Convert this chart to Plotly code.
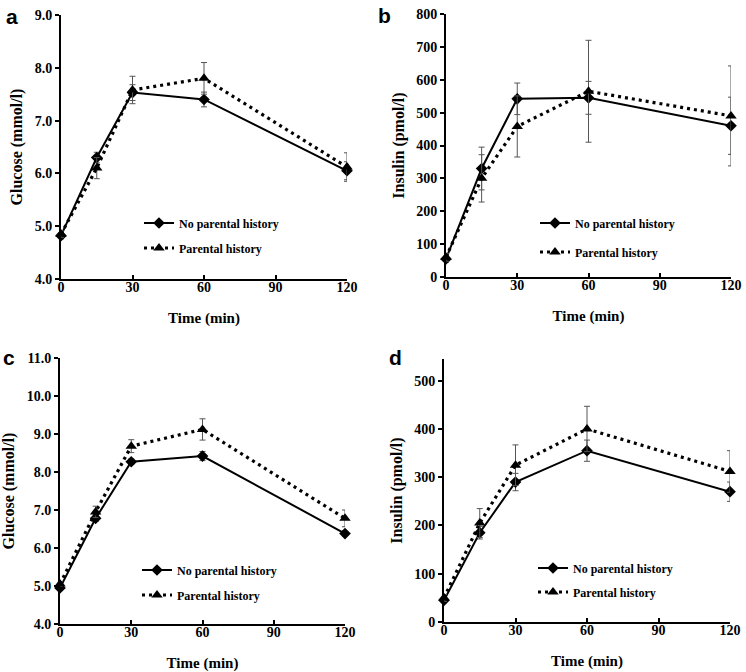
import plotly.graph_objects as go

W, H = 746, 672

time = [0, 15, 30, 60, 120]
x_ticks = [0, 30, 60, 90, 120]

# Panel a: glucose
a_no = [4.82, 6.30, 7.53, 7.40, 6.05]
a_no_err = [0.06, 0.10, 0.15, 0.14, 0.17]
a_ph = [4.85, 6.10, 7.58, 7.80, 6.12]
a_ph_err = [0.06, 0.20, 0.26, 0.30, 0.27]

# Panel b: insulin
b_no = [55, 330, 542, 545, 460]
b_no_err = [10, 65, 48, 50, 87]
b_ph = [60, 300, 458, 565, 490]
b_ph_err = [12, 72, 93, 155, 152]

# Panel c: glucose
c_no = [4.95, 6.78, 8.27, 8.42, 6.38]
c_no_err = [0.05, 0.08, 0.07, 0.12, 0.07]
c_ph = [5.05, 6.95, 8.68, 9.12, 6.78]
c_ph_err = [0.06, 0.15, 0.17, 0.28, 0.22]

# Panel d: insulin
d_no = [45, 185, 290, 355, 270]
d_no_err = [5, 13, 18, 22, 20]
d_ph = [50, 205, 325, 400, 312]
d_ph_err = [7, 30, 42, 47, 43]

name_no = "No parental history"
name_ph = "Parental history"

SERIF = "Liberation Serif, Times New Roman, serif"

panels = [
    dict(no=a_no, ne=a_no_err, ph=a_ph, pe=a_ph_err, x0=61, x1=347, yt=15, yb=279,
         yr=[4, 9], dt=1, fmt=".1f", title="Glucose (mmol/l)", letter="a", lx=12, ly=16,
         legx=139, legy=(223, 248)),
    dict(no=b_no, ne=b_no_err, ph=b_ph, pe=b_ph_err, x0=446, x1=731, yt=14, yb=277,
         yr=[0, 800], dt=100, fmt="d", title="Insulin (pmol/l)", letter="b", lx=384, ly=15,
         legx=535, legy=(223, 252)),
    dict(no=c_no, ne=c_no_err, ph=c_ph, pe=c_ph_err, x0=60, x1=345, yt=358, yb=624,
         yr=[4, 11], dt=1, fmt=".1f", title="Glucose (mmol/l)", letter="c", lx=9, ly=357,
         legx=137, legy=(570, 595)),
    dict(no=d_no, ne=d_no_err, ph=d_ph, pe=d_ph_err, x0=444, x1=730, yt=359, yb=622,
         yr=[0, 545], dt=100, fmt="d", title="Insulin (pmol/l)", letter="d", lx=395, ly=357,
         legx=533, legy=(568, 592)),
]

fig = go.Figure()
annotations = []
li = 1
for i, p in enumerate(panels, start=1):
    xa = "x" if i == 1 else f"x{i}"
    ya = "y" if i == 1 else f"y{i}"
    lg1 = "legend" if li == 1 else f"legend{li}"
    lg2 = f"legend{li + 1}"
    fig.add_trace(go.Scatter(
        x=time, y=p["no"], name=name_no, mode="lines+markers",
        line=dict(color="black", width=2),
        marker=dict(symbol="diamond", size=9, color="black"),
        error_y=dict(type="data", array=p["ne"], color="#555555", thickness=1, width=3),
        cliponaxis=False, xaxis=xa, yaxis=ya, legend=lg1))
    fig.add_trace(go.Scatter(
        x=time, y=p["ph"], name=name_ph, mode="lines+markers",
        line=dict(color="black", width=3.2, dash="3px,4px"),
        marker=dict(symbol="triangle-up", size=10, color="black"),
        error_y=dict(type="data", array=p["pe"], color="#555555", thickness=1, width=3),
        cliponaxis=False, xaxis=xa, yaxis=ya, legend=lg2))

    xd = [p["x0"] / W, p["x1"] / W]
    yd = [1 - p["yb"] / H, 1 - p["yt"] / H]
    axis_common = dict(showline=True, linecolor="black", linewidth=2,
                       ticklen=4, tickwidth=1.5, tickcolor="black", showgrid=False,
                       zeroline=False, automargin=False,
                       tickfont=dict(family=SERIF, size=14, color="black", weight="bold"))
    fig.layout[f"xaxis{i if i > 1 else ''}"] = dict(
        domain=xd, range=[0, 120], tickvals=x_ticks, anchor=ya, ticks="inside",
        ticklabelstandoff=-6,
        title=dict(text="Time (min)", font=dict(family=SERIF, size=15, color="black", weight="bold"),
                   standoff=19),
        **axis_common)
    fig.layout[f"yaxis{i if i > 1 else ''}"] = dict(
        domain=yd, range=p["yr"], dtick=p["dt"], tick0=0, tickformat=p["fmt"], anchor=xa,
        ticks="outside",
        title=dict(text=p["title"], font=dict(family=SERIF, size=16, color="black", weight="bold"),
                   standoff=8),
        **axis_common)

    for k, yy in enumerate(p["legy"]):
        key = "legend" if (li + k) == 1 else f"legend{li + k}"
        fig.layout[key] = dict(
            x=p["legx"] / W, y=1 - yy / H, xanchor="left", yanchor="middle",
            bgcolor="rgba(0,0,0,0)", borderwidth=0, itemwidth=30,
            font=dict(family=SERIF, size=12, color="black", weight="bold"))
    li += 2

    annotations.append(dict(
        text=p["letter"], x=p["lx"] / W, y=1 - p["ly"] / H, xref="paper", yref="paper",
        xanchor="center", yanchor="middle", showarrow=False,
        font=dict(family="Liberation Sans, Arial, sans-serif", size=21, color="black", weight="bold")))

fig.update_layout(
    width=W, height=H, margin=dict(l=0, r=0, t=0, b=0),
    paper_bgcolor="white", plot_bgcolor="white",
    showlegend=True, annotations=annotations,
)

fig.write_html("out.html", config={"displayModeBar": False},
               post_script="document.body.style.margin='0';document.body.style.overflow='hidden';")
